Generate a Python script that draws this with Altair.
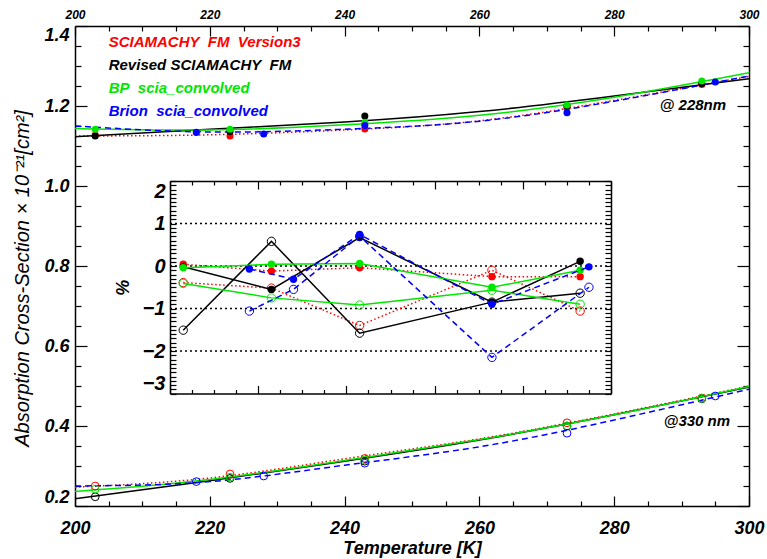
import altair as alt
import pandas as pd

FONT = "Liberation Sans"
NBSP = "\u00a0"

# ---- series ---------------------------------------------------------------
SERIES = ["SCIAMACHY" + NBSP + " FM" + NBSP + " Version3",
          "Revised SCIAMACHY" + NBSP + " FM",
          "BP" + NBSP + " scia_convolved",
          "Brion" + NBSP + " scia_convolved"]
COLORS = ["#ff0000", "#000000", "#00e600", "#0000ff"]
DASHES = [[1.5, 2.5], None, None, [6, 4]]

# temperatures [K]
T_FIT = [200, 220, 240, 260, 280, 300]
T_LAB = [203, 223, 243, 273, 293]
T_BRION = [218, 228, 243, 273, 295]
T_POINTS = [T_LAB, T_LAB, T_LAB, T_BRION]

# fitted temperature dependence, 228 nm (x 1e-21 cm^2)
fit228_v3 = [1.125, 1.128, 1.140, 1.163, 1.214, 1.274]
fit228_rev = [1.123, 1.142, 1.160, 1.186, 1.225, 1.268]
fit228_bp = [1.144, 1.140, 1.153, 1.177, 1.222, 1.283]
fit228_brion = [1.150, 1.135, 1.142, 1.162, 1.212, 1.275]

# fitted temperature dependence, 330 nm
fit330_v3 = [0.247, 0.270, 0.318, 0.368, 0.430, 0.500]
fit330_rev = [0.218, 0.263, 0.312, 0.365, 0.428, 0.497]
fit330_bp = [0.236, 0.266, 0.314, 0.366, 0.428, 0.499]
fit330_brion = [0.250, 0.261, 0.302, 0.348, 0.415, 0.492]

# measured cross-sections, 228 nm
pt228_v3 = [1.1275, 1.125, 1.1425, 1.197, 1.254]
pt228_rev = [1.125, 1.136, 1.175, 1.200, 1.256]
pt228_bp = [1.142, 1.142, 1.159, 1.2025, 1.2625]
pt228_brion = [1.134, 1.130, 1.151, 1.183, 1.260]

# measured cross-sections, 330 nm
pt330_v3 = [0.250, 0.280, 0.319, 0.408, 0.470]
pt330_rev = [0.223, 0.269, 0.312, 0.400, 0.468]
pt330_bp = [0.242, 0.272, 0.315, 0.400, 0.469]
pt330_brion = [0.261, 0.275, 0.307, 0.382, 0.475]

# relative deviation from fit [%], 228 nm (filled) and 330 nm (open)
pct228_v3 = [0.04, -0.12, -0.04, -0.25, -0.25]
pct228_rev = [-0.02, -0.55, 0.67, -0.85, 0.11]
pct228_bp = [-0.04, 0.04, 0.06, -0.50, -0.10]
pct228_brion = [-0.07, -0.31, 0.74, -0.90, -0.02]

pct330_v3 = [-0.39, -0.52, -1.40, -0.10, -1.06]
pct330_rev = [-1.51, 0.58, -1.58, -0.85, -0.64]
pct330_bp = [-0.41, -0.75, -0.92, -0.57, -0.90]
pct330_brion = [-1.06, -0.55, 0.70, -2.15, -0.50]

FIT228 = [fit228_v3, fit228_rev, fit228_bp, fit228_brion]
FIT330 = [fit330_v3, fit330_rev, fit330_bp, fit330_brion]
PT228 = [pt228_v3, pt228_rev, pt228_bp, pt228_brion]
PT330 = [pt330_v3, pt330_rev, pt330_bp, pt330_brion]
PCT228 = [pct228_v3, pct228_rev, pct228_bp, pct228_brion]
PCT330 = [pct330_v3, pct330_rev, pct330_bp, pct330_brion]

GRID_PCT = [-2, -1, 0, 1]

# ---- layout ---------------------------------------------------------------
W, H = 674, 480
INSET_X = [95, 536]
INSET_Y = [367.5, 155]

X_MAIN = alt.Scale(domain=[200, 300], nice=False, zero=False)
Y_MAIN = alt.Scale(domain=[0.2, 1.4], nice=False, zero=False)
X_IN = alt.Scale(domain=[200, 300], range=INSET_X, nice=False, zero=False)
Y_IN = alt.Scale(domain=[-3, 2], range=INSET_Y, nice=False, zero=False)

TICKS_T = list(range(200, 301, 5))
TICKS_MAIN_Y = [round(0.2 + 0.05 * k, 2) for k in range(25)]
TICKS_IN_Y = [round(-3 + 0.1 * k, 1) for k in range(51)]

LABEL = dict(labelFont=FONT, labelFontStyle="italic", labelFontWeight="bold",
             labelColor="black")
TICKS_ONLY = dict(labels=False, domain=True, domainColor="black", domainWidth=1.5,
                  tickColor="black", tickWidth=1.2, title=None)


def size_cond(test, major, minor):
    return {"condition": {"test": test, "value": major}, "value": minor}


T_MAJOR = "datum.value % 20 === 0"
Y_MAJOR = "round(datum.value * 100) % 20 === 0"


def line_mark(i, interpolate):
    kw = dict(color=COLORS[i], strokeWidth=1.5, interpolate=interpolate)
    if DASHES[i]:
        kw["strokeDash"] = DASHES[i]
    return kw


# ---- main panel ---------------------------------------------------------------
main_layers = []
for i in range(4):
    fit = pd.DataFrame({"T": T_FIT * 2, "v": FIT228[i] + FIT330[i],
                        "wl": ["228 nm"] * len(T_FIT) + ["330 nm"] * len(T_FIT)})
    main_layers.append(
        alt.Chart(fit).mark_line(**line_mark(i, "natural")).encode(
            x=alt.X("T:Q", scale=X_MAIN, axis=None),
            y=alt.Y("v:Q", scale=Y_MAIN, axis=None),
            detail="wl:N"))
for i in range(4):
    p228 = pd.DataFrame({"T": T_POINTS[i], "v": PT228[i]})
    p330 = pd.DataFrame({"T": T_POINTS[i], "v": PT330[i]})
    main_layers.append(
        alt.Chart(p228).mark_circle(size=50, opacity=1, color=COLORS[i]).encode(
            x=alt.X("T:Q", scale=X_MAIN, axis=None),
            y=alt.Y("v:Q", scale=Y_MAIN, axis=None)))
    main_layers.append(
        alt.Chart(p330).mark_point(shape="circle", filled=False, size=60,
                                   strokeWidth=1, opacity=1, color=COLORS[i]).encode(
            x=alt.X("T:Q", scale=X_MAIN, axis=None),
            y=alt.Y("v:Q", scale=Y_MAIN, axis=None)))

# legend text, one line per series
LEGEND_T = 205
LEGEND_V = [1.36, 1.3025, 1.245, 1.1875]
for i in range(4):
    main_layers.append(
        alt.Chart(pd.DataFrame({"label": [SERIES[i]]})).mark_text(
            align="left", baseline="middle", font=FONT, fontSize=15,
            fontStyle="italic", fontWeight="bold", color=COLORS[i]).encode(
            x=alt.XDatum(LEGEND_T, scale=X_MAIN, axis=None),
            y=alt.YDatum(LEGEND_V[i], scale=Y_MAIN, axis=None),
            text="label:N"))

for note, t, v in [("@ 228nm", 296.6, 1.2025), ("@330 nm", 297.2, 0.4125)]:
    main_layers.append(
        alt.Chart(pd.DataFrame({"label": [note]})).mark_text(
            align="right", baseline="middle", font=FONT, fontSize=15,
            fontStyle="italic", fontWeight="bold", color="black").encode(
            x=alt.XDatum(t, scale=X_MAIN, axis=None),
            y=alt.YDatum(v, scale=Y_MAIN, axis=None),
            text="label:N"))

frame = pd.DataFrame({"T": [200, 300], "v": [0.2, 1.4]})


def frame_layer(xaxis, yaxis):
    return alt.Chart(frame).mark_point(opacity=0).encode(
        x=alt.X("T:Q", scale=X_MAIN, axis=xaxis),
        y=alt.Y("v:Q", scale=Y_MAIN, axis=yaxis))


# labelled axes (bottom/left/top) and inward ticks on all four sides
main_layers += [
    frame_layer(
        alt.Axis(orient="bottom", values=list(range(200, 301, 20)), ticks=False,
                 domain=False, labelFlush=False, labelFontSize=18, labelPadding=13,
                 title="Temperature [K]", titleFont=FONT, titleFontSize=18,
                 titleFontStyle="italic", titleFontWeight="bold", titleColor="black",
                 titleY=47, titleBaseline="alphabetic", **LABEL),
        alt.Axis(orient="left", values=[0.2, 0.4, 0.6, 0.8, 1.0, 1.2, 1.4],
                 format=".1f", labelFlush=True, ticks=False, domain=False,
                 labelFontSize=18, labelPadding=6,
                 title="Absorption Cross-Section × 10⁻²¹[cm²]", titleFont=FONT,
                 titleFontSize=20, titleFontStyle="italic", titleFontWeight="normal",
                 titleColor="black", titleX=-53, titleY=252, titleBaseline="middle",
                 titleAlign="center", titleAngle=270, **LABEL)),
    frame_layer(
        alt.Axis(orient="top", offset=-H, values=TICKS_T, labelFlush=False,
                 tickSize=size_cond(T_MAJOR, 10, 5), **TICKS_ONLY),
        alt.Axis(orient="right", offset=-W, values=TICKS_MAIN_Y,
                 tickSize=size_cond(Y_MAJOR, 12, 6), **TICKS_ONLY)),
    frame_layer(
        alt.Axis(orient="bottom", offset=-H, values=TICKS_T, labelFlush=False,
                 tickSize=size_cond(T_MAJOR, 10, 5), **TICKS_ONLY),
        alt.Axis(orient="left", offset=-W, values=TICKS_MAIN_Y,
                 tickSize=size_cond(Y_MAJOR, 12, 6), **TICKS_ONLY)),
    frame_layer(
        alt.Axis(orient="top", values=list(range(200, 301, 20)), ticks=False,
                 domain=False, labelFlush=False, labelFontSize=12, labelPadding=5,
                 title=None, **LABEL),
        None),
]

main = alt.layer(*main_layers).resolve_axis(x="independent", y="independent")

# ---- inset: deviation in percent ---------------------------------------------
inset_layers = [
    alt.Chart(pd.DataFrame({"g": GRID_PCT, "t0": [200] * 4, "t1": [300] * 4}))
    .mark_rule(color="black", strokeWidth=1.5, strokeDash=[2, 3]).encode(
        x=alt.X("t0:Q", scale=X_IN, axis=None), x2="t1:Q",
        y=alt.Y("g:Q", scale=Y_IN, axis=None))
]
for i in range(4):
    for pct, filled in [(PCT228[i], True), (PCT330[i], False)]:
        d = pd.DataFrame({"T": T_POINTS[i], "p": pct})
        enc = dict(x=alt.X("T:Q", scale=X_IN, axis=None),
                   y=alt.Y("p:Q", scale=Y_IN, axis=None))
        inset_layers.append(alt.Chart(d).mark_line(**line_mark(i, "linear")).encode(**enc))
        if filled:
            inset_layers.append(alt.Chart(d).mark_circle(
                size=55, opacity=1, color=COLORS[i]).encode(**enc))
        else:
            inset_layers.append(alt.Chart(d).mark_point(
                shape="circle", filled=False, size=70, strokeWidth=1, opacity=1,
                color=COLORS[i]).encode(**enc))

inset_frame = pd.DataFrame({"T": [200, 300], "p": [-3, 2]})


def inset_frame_layer(xaxis, yaxis):
    return alt.Chart(inset_frame).mark_point(opacity=0).encode(
        x=alt.X("T:Q", scale=X_IN, axis=xaxis),
        y=alt.Y("p:Q", scale=Y_IN, axis=yaxis))


inset_layers += [
    inset_frame_layer(
        alt.Axis(orient="top", offset=-INSET_Y[0], values=TICKS_T, labelFlush=False,
                 tickSize=size_cond(T_MAJOR, 8, 4), **TICKS_ONLY),
        alt.Axis(orient="left", offset=-INSET_X[0], values=[-3, -2, -1, 0, 1, 2],
                 labelFlush=True, ticks=False, domain=False, labelFontSize=20,
                 labelPadding=5, title="%", titleFont=FONT, titleFontSize=18,
                 titleFontStyle="italic", titleFontWeight="bold", titleColor="black",
                 titlePadding=10, **LABEL)),
    inset_frame_layer(
        alt.Axis(orient="bottom", offset=INSET_Y[1] - H, values=TICKS_T,
                 labelFlush=False, tickSize=size_cond(T_MAJOR, 8, 4), **TICKS_ONLY),
        alt.Axis(orient="right", offset=INSET_X[0] - W, values=TICKS_IN_Y,
                 tickSize=6, **TICKS_ONLY)),
    inset_frame_layer(
        None,
        alt.Axis(orient="left", offset=-INSET_X[1], values=TICKS_IN_Y,
                 tickSize=6, **TICKS_ONLY)),
]

inset = alt.layer(*inset_layers).resolve_axis(x="independent", y="independent")

chart = (
    alt.layer(main, inset)
    .resolve_scale(x="independent", y="independent")
    .properties(width=W, height=H, autosize=alt.AutoSizeParams(type="none"),
                padding={"left": 75, "top": 26, "right": 18, "bottom": 53},
                background="white")
    .configure_view(stroke=None)
    .configure_axis(grid=False)
)

chart.save("out.html", embed_options={"renderer": "svg", "actions": False})
